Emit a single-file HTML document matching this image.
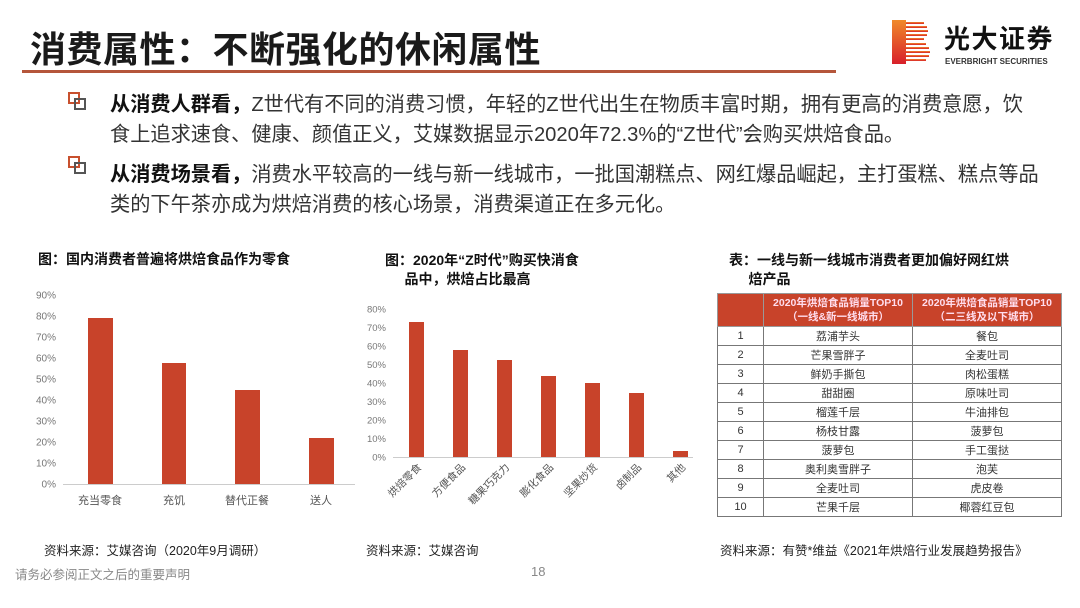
<!DOCTYPE html>
<html><head><meta charset="utf-8"><style>
*{margin:0;padding:0;box-sizing:border-box}
body{width:1080px;height:608px;background:#fff;position:relative;overflow:hidden;font-family:"Liberation Sans","Noto Sans CJK SC",sans-serif;color:#222}
.a{position:absolute;white-space:nowrap}
.title{left:30px;top:21px;font-size:36px;font-weight:bold;color:#1a1a1a;letter-spacing:0.5px}
.bul{font-size:20.2px;color:#333;line-height:30px}
.bul b{color:#111}
.ico{position:absolute;width:12px;height:12px;border:2.5px solid #c8502e}
.ico2{position:absolute;width:12px;height:12px;border:2.5px solid #555}
.ct{font-size:14px;font-weight:bold;color:#111;line-height:19px}
.src{font-size:12.5px;color:#222}
table{border-collapse:collapse;position:absolute;left:717px;top:293px;width:345px;font-size:11px;color:#333}
td{border:1px solid #777;text-align:center;height:19px;padding:0}
th{background:#c8432a;color:#fde;font-size:10.5px;font-weight:bold;border:1px solid #999;height:33px;line-height:14px}
</style></head><body>
<div class="a title">消费属性：不断强化的休闲属性</div>
<div class="a" style="left:22px;top:70px;width:814px;height:3px;background:#b5563b"></div>
<!-- logo -->
<svg class="a" style="left:892px;top:20px" width="40" height="44">
<defs><linearGradient id="g" x1="0" y1="0" x2="0" y2="1"><stop offset="0" stop-color="#f08a2a"/><stop offset="1" stop-color="#d8202a"/></linearGradient></defs>
<rect x="0" y="0" width="14" height="44" fill="url(#g)"/>
<g fill="url(#g)">
<rect x="14" y="2" width="18" height="2"/><rect x="14" y="6" width="21" height="2"/><rect x="14" y="10" width="22" height="2"/><rect x="14" y="14" width="21" height="2"/><rect x="14" y="18" width="18" height="2"/>
<rect x="14" y="23" width="20" height="2"/><rect x="14" y="27" width="23" height="2"/><rect x="14" y="31" width="24" height="2"/><rect x="14" y="35" width="23" height="2"/><rect x="14" y="39" width="20" height="2"/>
</g></svg>
<div class="a" style="left:944px;top:24px;font-size:26px;line-height:30px;font-weight:bold;color:#111;letter-spacing:1.5px">光大证券</div>
<div class="a" style="left:945px;top:57px;font-size:8px;line-height:9px;font-weight:bold;color:#333">EVERBRIGHT SECURITIES</div>
<!-- bullets -->
<div class="ico" style="left:68px;top:92px"></div><div class="ico2" style="left:74px;top:98px"></div>
<div class="ico" style="left:68px;top:156px"></div><div class="ico2" style="left:74px;top:162px"></div>
<div class="a bul" style="left:110px;top:90px"><b>从消费人群看，</b>Z世代有不同的消费习惯，年轻的Z世代出生在物质丰富时期，拥有更高的消费意愿，饮<br>食上追求速食、健康、颜值正义，艾媒数据显示2020年72.3%的“Z世代”会购买烘焙食品。</div>
<div class="a bul" style="left:110px;top:160px"><b>从消费场景看，</b>消费水平较高的一线与新一线城市，一批国潮糕点、网红爆品崛起，主打蛋糕、糕点等品<br>类的下午茶亦成为烘焙消费的核心场景，消费渠道正在多元化。</div>
<!-- chart titles -->
<div class="a ct" style="left:38px;top:250px">图：国内消费者普遍将烘焙食品作为零食</div>
<div class="a ct" style="left:385px;top:251px">图：2020年“Z时代”购买快消食<br>&nbsp;&nbsp;&nbsp;&nbsp;&nbsp;品中，烘焙占比最高</div>
<div class="a ct" style="left:729px;top:251px">表：一线与新一线城市消费者更加偏好网红烘<br>&nbsp;&nbsp;&nbsp;&nbsp;&nbsp;焙产品</div>
<!-- chart 1 -->
<svg class="a" style="left:0;top:280px" width="360" height="240" font-family="Liberation Sans,Noto Sans CJK SC,sans-serif" font-size="10" fill="#777">
<g text-anchor="end">
<text x="56" y="207.5">0%</text><text x="56" y="186.5">10%</text><text x="56" y="165.5">20%</text><text x="56" y="144.5">30%</text><text x="56" y="123.5">40%</text><text x="56" y="102.5">50%</text><text x="56" y="81.5">60%</text><text x="56" y="60.5">70%</text><text x="56" y="39.5">80%</text><text x="56" y="18.5">90%</text></g>
<line x1="63" y1="204.5" x2="355" y2="204.5" stroke="#ccc"/>
<g fill="#c8432a"><rect x="88" y="38" width="25" height="166"/><rect x="162" y="83" width="24" height="121"/><rect x="235" y="110" width="25" height="94"/><rect x="309" y="158" width="25" height="46"/></g>
<g text-anchor="middle" fill="#555" font-size="11"><text x="100" y="224">充当零食</text><text x="174" y="224">充饥</text><text x="247" y="224">替代正餐</text><text x="321" y="224">送人</text></g>
</svg>
<!-- chart 2 -->
<svg class="a" style="left:360px;top:300px" width="340" height="210" font-family="Liberation Sans,Noto Sans CJK SC,sans-serif" font-size="9.5" fill="#777">
<g text-anchor="end">
<text x="26" y="160.5">0%</text><text x="26" y="142">10%</text><text x="26" y="123.5">20%</text><text x="26" y="105">30%</text><text x="26" y="86.5">40%</text><text x="26" y="68">50%</text><text x="26" y="49.5">60%</text><text x="26" y="31">70%</text><text x="26" y="12.5">80%</text></g>
<line x1="33" y1="157.5" x2="333" y2="157.5" stroke="#ccc"/>
<g fill="#c8432a"><rect x="49" y="22" width="15" height="135"/><rect x="93" y="50" width="15" height="107"/><rect x="137" y="60" width="15" height="97"/><rect x="181" y="76" width="15" height="81"/><rect x="225" y="83" width="15" height="74"/><rect x="269" y="93" width="15" height="64"/><rect x="313" y="151" width="15" height="6"/></g>
<g text-anchor="end" fill="#555" font-size="10.5">
<text transform="translate(62,168) rotate(-45)">烘焙零食</text>
<text transform="translate(106,168) rotate(-45)">方便食品</text>
<text transform="translate(150,168) rotate(-45)">糖果巧克力</text>
<text transform="translate(194,168) rotate(-45)">膨化食品</text>
<text transform="translate(238,168) rotate(-45)">坚果炒货</text>
<text transform="translate(282,168) rotate(-45)">卤制品</text>
<text transform="translate(326,168) rotate(-45)">其他</text></g>
</svg>
<!-- table -->
<table>
<tr><th style="width:46px"></th><th style="width:149px">2020年烘焙食品销量TOP10<br>（一线&amp;新一线城市）</th><th>2020年烘焙食品销量TOP10<br>（二三线及以下城市）</th></tr>
<tr><td>1</td><td>荔浦芋头</td><td>餐包</td></tr>
<tr><td>2</td><td>芒果雪胖子</td><td>全麦吐司</td></tr>
<tr><td>3</td><td>鲜奶手撕包</td><td>肉松蛋糕</td></tr>
<tr><td>4</td><td>甜甜圈</td><td>原味吐司</td></tr>
<tr><td>5</td><td>榴莲千层</td><td>牛油排包</td></tr>
<tr><td>6</td><td>杨枝甘露</td><td>菠萝包</td></tr>
<tr><td>7</td><td>菠萝包</td><td>手工蛋挞</td></tr>
<tr><td>8</td><td>奥利奥雪胖子</td><td>泡芙</td></tr>
<tr><td>9</td><td>全麦吐司</td><td>虎皮卷</td></tr>
<tr><td>10</td><td>芒果千层</td><td>椰蓉红豆包</td></tr>
</table>
<!-- sources -->
<div class="a src" style="left:44px;top:540px">资料来源：艾媒咨询（2020年9月调研）</div>
<div class="a src" style="left:366px;top:540px">资料来源：艾媒咨询</div>
<div class="a src" style="left:720px;top:540px">资料来源：有赞*维益《2021年烘焙行业发展趋势报告》</div>
<div class="a" style="left:15px;top:564px;font-size:12.5px;color:#888">请务必参阅正文之后的重要声明</div>
<div class="a" style="left:531px;top:564px;font-size:13px;color:#888">18</div>
</body></html>
